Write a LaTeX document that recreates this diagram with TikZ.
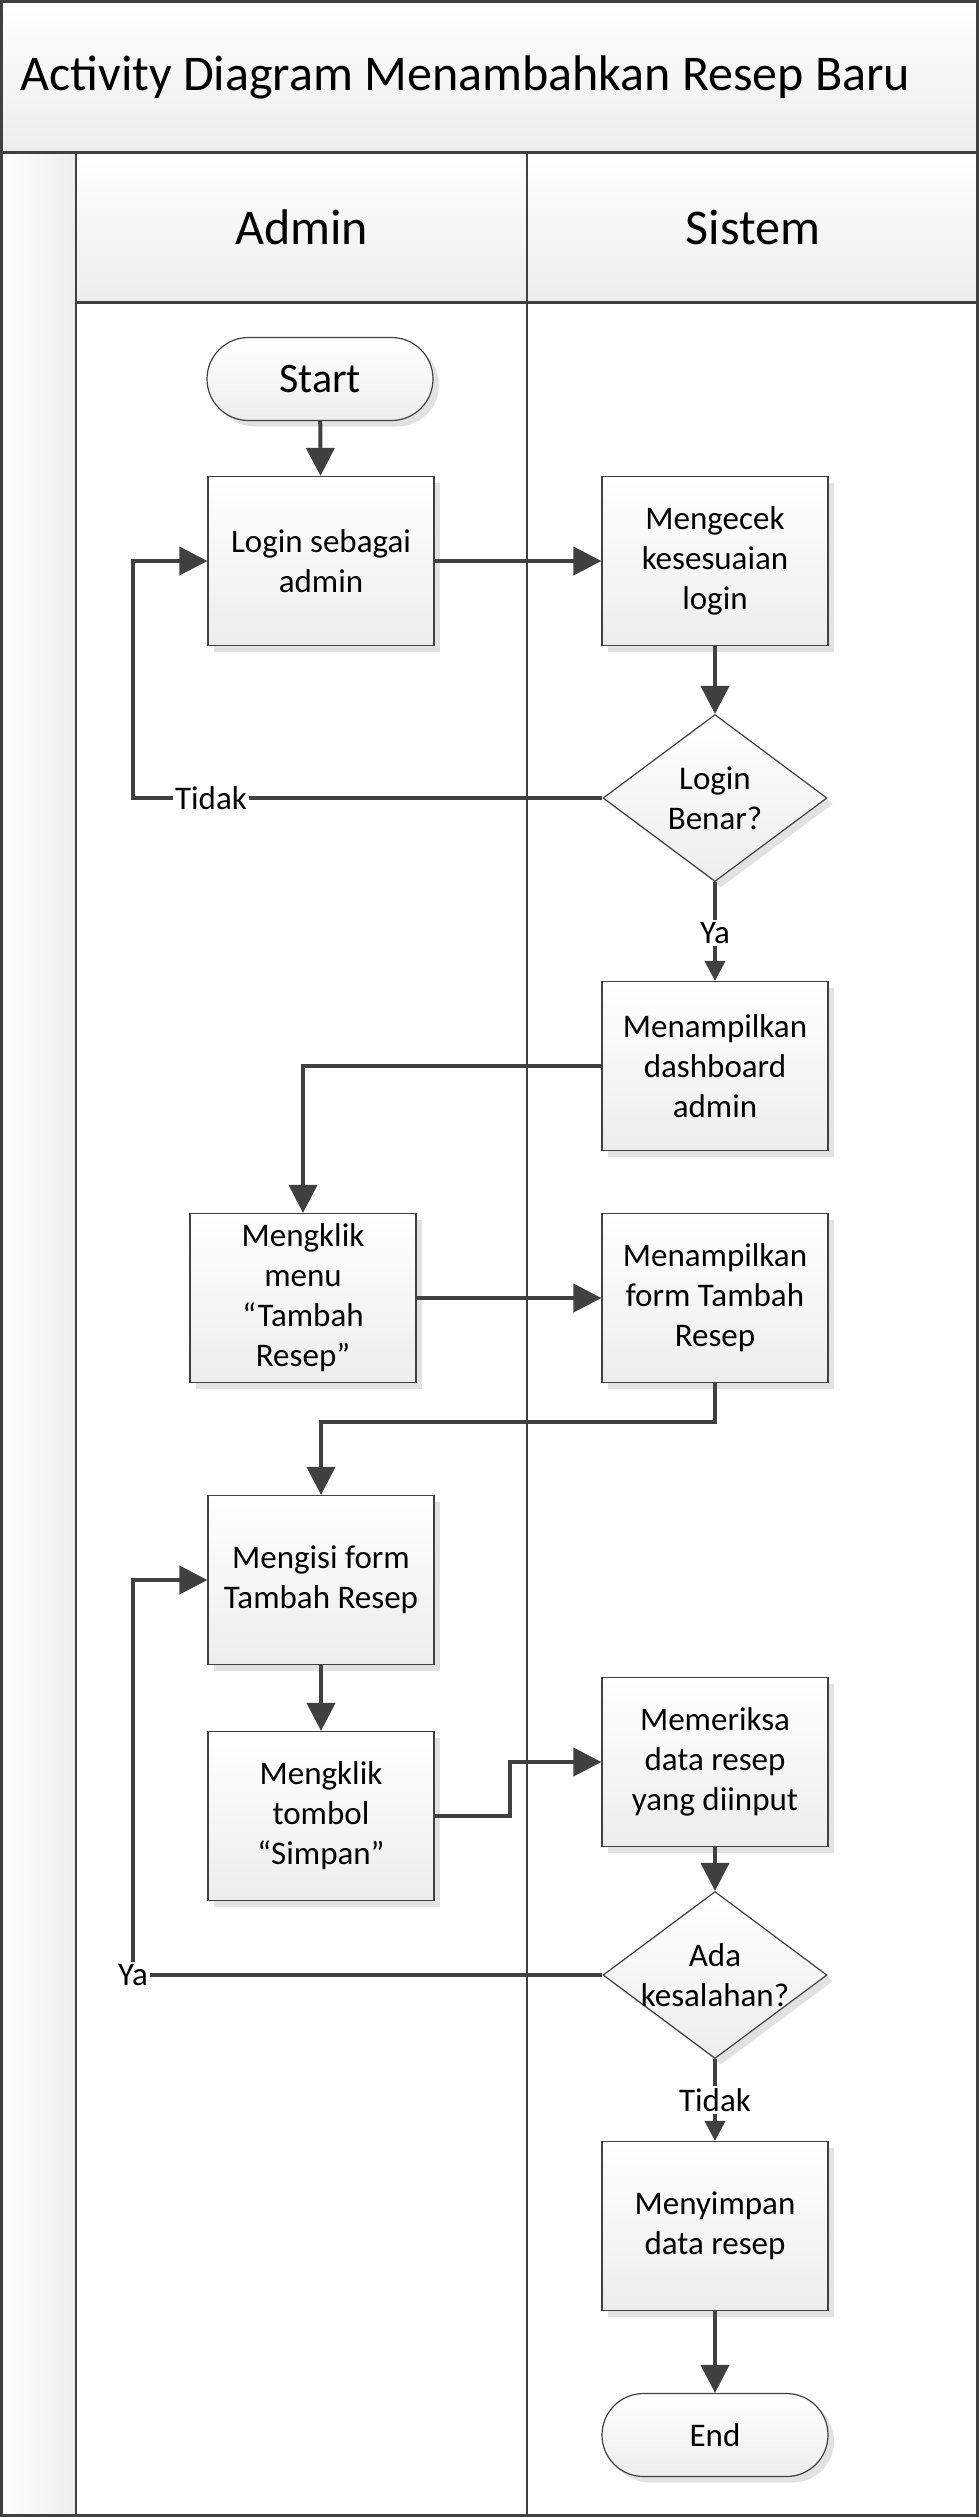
\documentclass[tikz,border=0pt]{standalone}
\usepackage{fontspec}
\setmainfont{Carlito}
\usetikzlibrary{shapes.geometric,arrows.meta,shadows}
\definecolor{ln}{HTML}{404040}
\definecolor{shd}{HTML}{E2E2E2}
\definecolor{gbot}{HTML}{EDEDED}
\begin{document}
\begin{tikzpicture}[x=1pt,y=-1pt,
  txt/.style={font=\fontsize{33}{40}\selectfont},
  proc/.style={txt,draw=ln,line width=1.2pt,top color=white,bottom color=gbot,
    minimum width=226pt,minimum height=169pt,inner sep=0pt,align=center,
    drop shadow={shadow xshift=6pt,shadow yshift=-6pt,fill=shd,opacity=1,draw=none}},
  term/.style={draw=ln,line width=1.2pt,top color=white,bottom color=gbot,
    rounded corners=41.5pt,minimum width=226pt,minimum height=83pt,inner sep=0pt,
    drop shadow={shadow xshift=6pt,shadow yshift=-6pt,fill=shd,opacity=1,draw=none}},
  dec/.style={diamond,draw=ln,line width=1.2pt,top color=white,bottom color=gbot,
    minimum width=224pt,minimum height=167pt,inner sep=0pt,
    drop shadow={shadow xshift=6pt,shadow yshift=-6pt,fill=shd,opacity=1,draw=none}},
  flow/.style={draw=ln,line width=4pt,-{Triangle[length=28pt,width=28pt]}},
  flows/.style={draw=ln,line width=4pt,-{Triangle[length=20pt,width=20pt]}},
  lbl/.style={txt,fill=white,inner sep=2pt},
  frame/.style={draw=ln,line width=3pt},
  thin/.style={draw=ln,line width=2.5pt}
]
\useasboundingbox (0,0) rectangle (979,2517);
\fill[white] (0,0) rectangle (979,2517);
% title band and headers
\shade[top color=white,bottom color=gbot] (0,0) rectangle (979,152);
\shade[left color=white,right color=gbot] (0,152) rectangle (76,2517);
\shade[top color=white,bottom color=gbot] (76,152) rectangle (979,302);
\node[anchor=west,font=\fontsize{50}{60}\selectfont] (title) at (17,77) {Activity Diagram Menambahkan Resep Baru};
\node[font=\fontsize{50}{60}\selectfont] (hadmin) at (301.5,227) {Admin};
\node[font=\fontsize{50}{60}\selectfont] (hsistem) at (753,227) {Sistem};
\draw[thin] (76,152) -- (76,2517);
\draw[thin] (527,152) -- (527,2517);
\draw[frame] (0,152) -- (979,152);
\draw[frame] (76,302) -- (979,302);
\draw[frame] (1.5,1.5) rectangle (977.5,2515.5);

% nodes
\node[term,font=\fontsize{42}{50}\selectfont] (start) at (320,379) {Start};
\node[proc] (login) at (321,561) {Login sebagai\\admin};
\node[proc] (cek) at (715,561) {Mengecek\\kesesuaian\\login};
\node[dec,label={[txt,align=center]center:Login\\Benar?}] (d1) at (715,798) {};
\node[proc] (dash) at (715,1066) {Menampilkan\\dashboard\\admin};
\node[proc] (menu) at (303,1298) {Mengklik\\menu\\“Tambah\\Resep”};
\node[proc] (form) at (715,1298) {Menampilkan\\form Tambah\\Resep};
\node[proc] (isi) at (321,1580) {Mengisi form\\Tambah Resep};
\node[proc] (simpan) at (321,1816) {Mengklik\\tombol\\“Simpan”};
\node[proc] (periksa) at (715,1762) {Memeriksa\\data resep\\yang diinput};
\node[dec,label={[txt,align=center]center:Ada\\kesalahan?}] (d2) at (715,1975) {};
\node[proc] (simpandata) at (715,2226) {Menyimpan\\data resep};
\node[term,txt] (end) at (715,2435) {End};

\coordinate (c1) at (133,798);
\coordinate (c3) at (715,1422);
\coordinate (c4) at (510,1816);
\coordinate (c5) at (133,1975);

% connectors
\draw[flow] (start) -- (login);
\draw[flow] (login) -- (cek);
\draw[flow] (cek) -- (d1);
\draw[flow] (d1.west) -- (c1) |- (login.west);
\node[lbl] (tidak1) at (211,798) {Tidak};
\draw[flows] (d1.south) -- (dash.north);
\node[lbl] (ya1) at (715,933) {Ya};
\draw[flow] (dash.west) -| (menu.north);
\draw[flow] (menu.east) -- (form.west);
\draw[flow] (form.south) -- (c3) -| (isi.north);
\draw[flow] (isi) -- (simpan);
\draw[flow] (simpan.east) -- (c4) |- (periksa.west);
\draw[flow] (periksa) -- (d2);
\draw[flow] (d2.west) -- (c5) |- (isi.west);
\node[lbl] (ya2) at (133,1975) {Ya};
\draw[flows] (d2.south) -- (simpandata.north);
\node[lbl] (tidak2) at (715,2100) {Tidak};
\draw[flow] (simpandata) -- (end);
\end{tikzpicture}
\end{document}
